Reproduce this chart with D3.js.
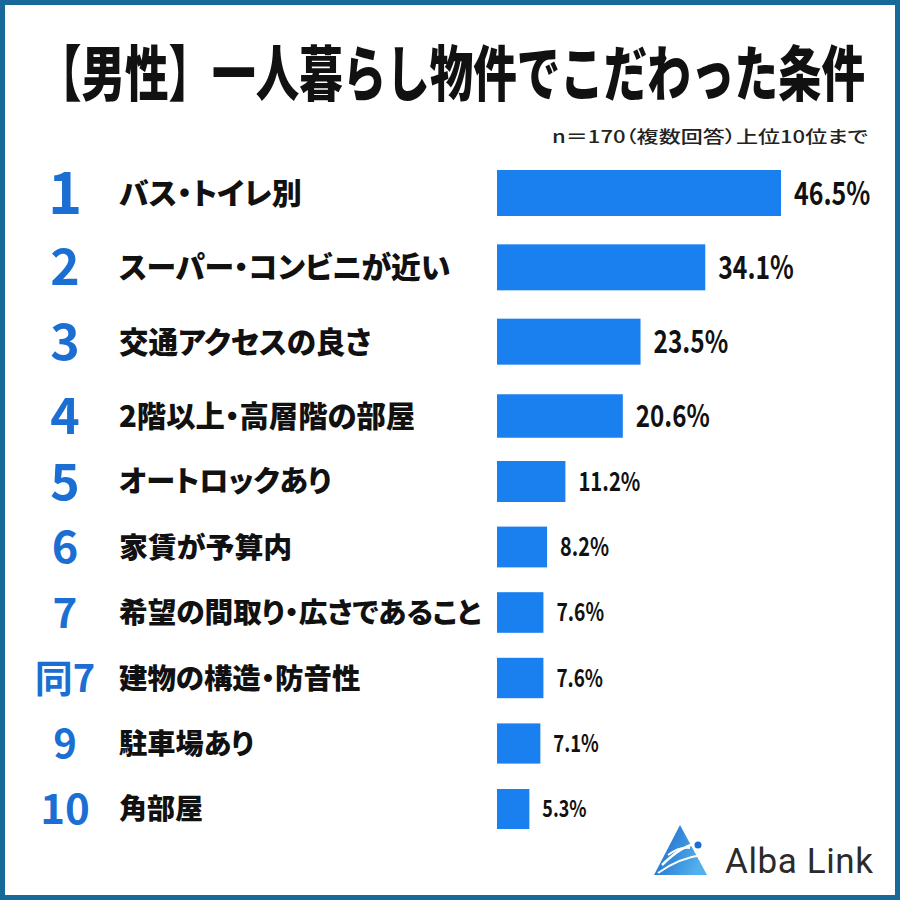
<!DOCTYPE html>
<html>
<head>
<meta charset="utf-8">
<script src="https://cdn.jsdelivr.net/npm/d3@7"></script>
<style>
  html, body { margin: 0; padding: 0; background: #fff; }
  svg { display: block; }
  .jp { font-feature-settings: "palt" 1; }
</style>
</head>
<body>
<svg width="900" height="900"></svg>
<script>
// data
const ranks = ["1", "2", "3", "4", "5", "6", "7", "同7", "9", "10"];
const items = [
    "バス・トイレ別",
    "スーパー・コンビニが近い",
    "交通アクセスの良さ",
    "2階以上・高層階の部屋",
    "オートロックあり",
    "家賃が予算内",
    "希望の間取り・広さであること",
    "建物の構造・防音性",
    "駐車場あり",
    "角部屋"
];
const values = [46.5, 34.1, 23.5, 20.6, 11.2, 8.2, 7.6, 7.6, 7.1, 5.3];

const title = "【男性】一人暮らし物件でこだわった条件";
const note = "n＝170（複数回答）上位10位まで";

const JP = "'Noto Sans CJK JP', 'Noto Sans', sans-serif";
const BAR = "#1a80ef";
const RANK = "#1b6fd2";

const svg = d3.select("svg");
const idx = d3.range(values.length);

// scales (rows get a bit tighter further down, like the poster)
const x = d3.scaleLinear().domain([0, d3.max(values)]).range([497, 781]);
const y = d3.scaleLinear().domain([0, 3, 9]).range([193, 416, 809]);
const barH = d3.scaleLinear().domain([0, 2, 4, 9]).range([46, 46, 41, 40]);
const rankSize = d3.scaleLinear().domain([0, 1, 4, 5, 6, 7, 8, 9]).range([58, 50, 50, 45, 42, 38, 40, 42]);
const labelSize = d3.scaleLinear().domain([0, 9]).range([30, 28]);
const valueSize = d3.scaleLinear().domain([0, 3, 4, 9]).range([32, 31, 26, 23]);

// frame
svg.append("rect")
    .attr("x", 2.5).attr("y", 2.5)
    .attr("width", 895).attr("height", 895)
    .attr("fill", "#fff")
    .attr("stroke", "#176a97")
    .attr("stroke-width", 5);

// title: tall, tightly set heading
svg.append("text")
    .attr("transform", "translate(38,96) scale(1,1.38)")
    .attr("textLength", 827)
    .attr("lengthAdjust", "spacingAndGlyphs")
    .attr("font-family", JP)
    .attr("font-weight", 900)
    .attr("font-size", 44)
    .attr("fill", "#111")
    .text(title);

svg.append("text")
    .attr("class", "jp")
    .attr("x", 552).attr("y", 143)
    .attr("textLength", 316)
    .attr("lengthAdjust", "spacingAndGlyphs")
    .attr("font-family", JP)
    .attr("font-weight", 500)
    .attr("font-size", 17)
    .attr("fill", "#222")
    .text(note);

// rows
const rows = svg.append("g").selectAll("g")
    .data(idx)
    .join("g");

rows.append("text")
    .attr("class", "jp")
    .attr("x", 65)
    .attr("y", i => y(i))
    .attr("dy", "0.36em")
    .attr("text-anchor", "middle")
    .attr("font-family", JP)
    .attr("font-weight", 700)
    .attr("font-size", i => rankSize(i))
    .attr("fill", RANK)
    .text(i => ranks[i]);

rows.append("text")
    .attr("class", "jp")
    .attr("x", 119)
    .attr("y", i => y(i))
    .attr("dy", "0.37em")
    .attr("font-family", JP)
    .attr("font-weight", 900)
    .attr("font-size", i => labelSize(i))
    .attr("fill", "#111")
    .text(i => items[i]);

rows.append("rect")
    .attr("x", x(0))
    .attr("y", i => y(i) - barH(i) / 2)
    .attr("width", i => x(values[i]) - x(0))
    .attr("height", i => barH(i))
    .attr("fill", BAR);

rows.append("text")
    .attr("transform", i => `translate(${x(values[i]) + 13},${y(i)}) scale(0.78,1)`)
    .attr("dy", "0.36em")
    .attr("font-family", JP)
    .attr("font-weight", 700)
    .attr("font-size", i => valueSize(i))
    .attr("fill", "#111")
    .text(i => values[i].toFixed(1) + "%");

// logo
const logo = svg.append("g").attr("transform", "translate(654,825)");
const grad = svg.append("defs").append("linearGradient")
    .attr("id", "lg").attr("x1", "0").attr("y1", "0").attr("x2", "1").attr("y2", "0.4");
grad.append("stop").attr("offset", "0").attr("stop-color", "#1762c4");
grad.append("stop").attr("offset", "1").attr("stop-color", "#52b0ec");
logo.append("path")
    .attr("d", "M26,0 L53,50 L0,50 Z")
    .attr("fill", "url(#lg)");
logo.append("path")
    .attr("d", "M8,40 C20,28 32,20 44,18")
    .attr("fill", "none").attr("stroke", "#fff").attr("stroke-width", 2.5);
logo.append("path")
    .attr("d", "M4,48 C18,38 32,32 48,30")
    .attr("fill", "none").attr("stroke", "#fff").attr("stroke-width", 2);
logo.append("path")
    .attr("d", "M14,30 C22,24 30,22 36,23")
    .attr("fill", "none").attr("stroke", "#fff").attr("stroke-width", 2);
logo.append("circle")
    .attr("cx", 44).attr("cy", 20).attr("r", 3.5)
    .attr("fill", "#1b6fd2");

svg.append("text")
    .attr("x", 725).attr("y", 873)
    .attr("textLength", 148)
    .attr("lengthAdjust", "spacing")
    .attr("font-family", "Roboto, 'Noto Sans', sans-serif")
    .attr("font-size", 35)
    .attr("fill", "#2b2b2b")
    .text("Alba Link");
</script>
</body>
</html>
